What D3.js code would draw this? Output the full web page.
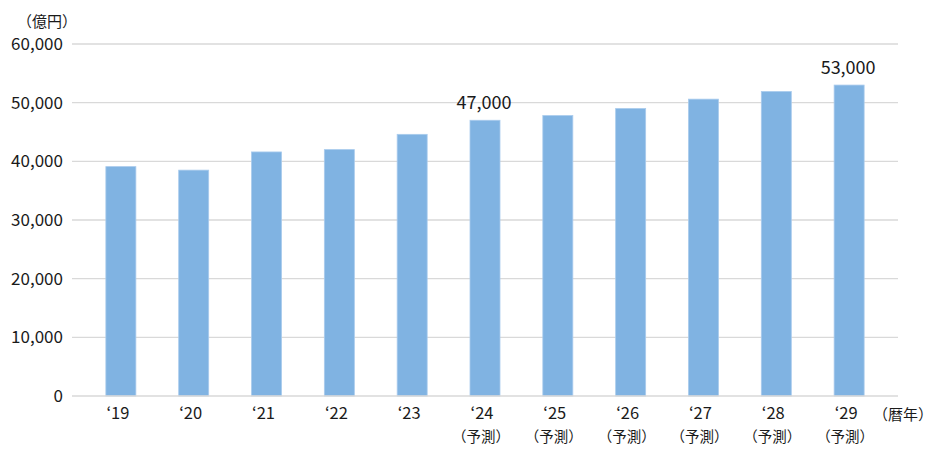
<!DOCTYPE html>
<html><head><meta charset="utf-8">
<script src="https://cdn.jsdelivr.net/npm/d3@7"></script>
<style>
body{margin:0;background:#fff;}
text{font-family:"Noto Sans CJK JP","Noto Sans",sans-serif;fill:#1a1a1a;}
</style></head>
<body><svg id="c" width="940" height="450"></svg>
<script>
const years = ["‘19","‘20","‘21","‘22","‘23","‘24","‘25","‘26","‘27","‘28","‘29"];
const forecast = [false,false,false,false,false,true,true,true,true,true,true];
const values = [39100,38500,41600,42000,44600,47000,47800,49000,50600,51900,53000];
const labelled = {"‘24":"47,000","‘29":"53,000"};
const yTicks = [0,10000,20000,30000,40000,50000,60000];

const svg = d3.select("#c");
const x = d3.scaleBand().domain(years).range([72,898]).paddingInner(0.588).paddingOuter(0.465);
const y = d3.scaleLinear().domain([0,60000]).range([396,44]);

// gridlines
svg.append("g").selectAll("line").data(yTicks.filter(d=>d>0)).join("line")
  .attr("x1",72).attr("x2",898).attr("y1",d=>y(d)).attr("y2",d=>y(d))
  .attr("stroke","#d9d9d9").attr("stroke-width",1.3);

// bars
svg.append("g").selectAll("rect").data(values).join("rect")
  .attr("x",(d,i)=>x(years[i])).attr("width",x.bandwidth())
  .attr("y",d=>y(d)).attr("height",d=>y(0)-y(d))
  .attr("fill","#80b3e2").attr("stroke","#a9cbed").attr("stroke-width",0.8);

// baseline
svg.append("line").attr("x1",72).attr("x2",898).attr("y1",y(0)).attr("y2",y(0))
  .attr("stroke","#d9d9d9").attr("stroke-width",1.5);

// y axis labels
const fmt = d3.format(",");
svg.append("g").selectAll("text").data(yTicks).join("text")
  .attr("x",63).attr("y",d=>y(d)).attr("dy","0.36em").attr("text-anchor","end")
  .style("font-size","17px").text(d=>fmt(d));

svg.append("text").attr("x",47).attr("y",27).attr("text-anchor","middle")
  .style("font-size","15px").text("（億円）");

// x labels
const xl = svg.append("g");
years.forEach((yr,i)=>{
  const cx = x(yr)+x.bandwidth()/2;
  xl.append("text").attr("x",cx-3).attr("y",419).attr("text-anchor","middle")
    .style("font-size","16.5px").text(yr);
  if(forecast[i]) xl.append("text").attr("x",cx-4).attr("y",442).attr("text-anchor","middle")
    .style("font-size","14.5px").text("（予測）");
});
svg.append("text").attr("x",903).attr("y",420).attr("text-anchor","middle")
  .style("font-size","15px").text("（暦年）");

// data labels
svg.append("g").selectAll("text").data(years.filter(d=>labelled[d])).join("text")
  .attr("x",d=>x(d)+x.bandwidth()/2-1).attr("y",d=>y(values[years.indexOf(d)])-11)
  .attr("text-anchor","middle").style("font-size","18px").text(d=>labelled[d]);
</script></body></html>
